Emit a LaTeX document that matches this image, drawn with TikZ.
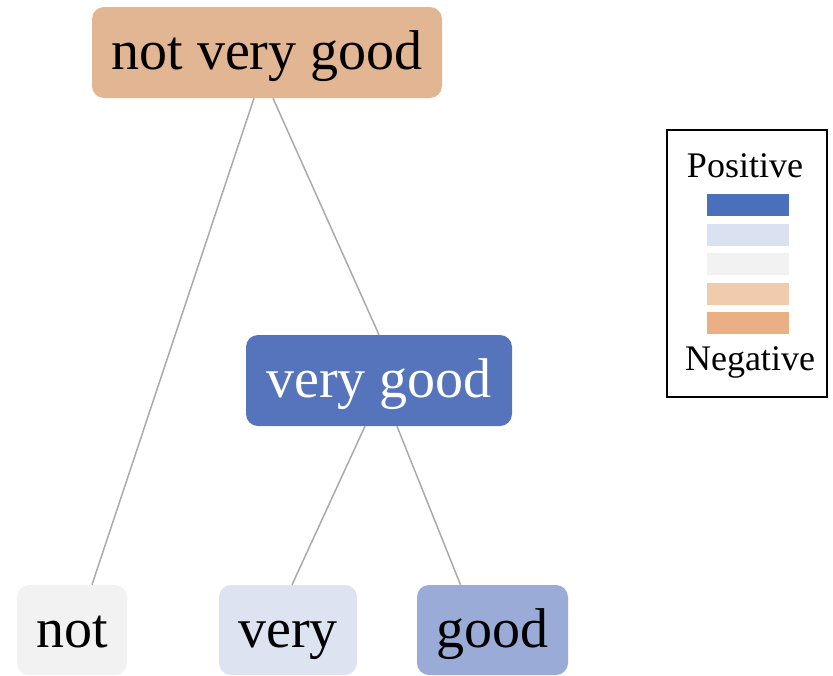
\documentclass[tikz,border=0pt]{standalone}
\usepackage{fontspec}
\setmainfont{Liberation Serif}
\usetikzlibrary{calc}

\definecolor{negstrong}{HTML}{E2B593}
\definecolor{posstrong}{HTML}{5574BB}
\definecolor{neutral}{HTML}{F2F2F2}
\definecolor{posweak}{HTML}{DEE3F2}
\definecolor{posmid}{HTML}{99ABD6}
\definecolor{edgegray}{HTML}{AAAAAA}
\definecolor{legpos2}{HTML}{4A70BB}
\definecolor{legpos1}{HTML}{DAE1F0}
\definecolor{legneu}{HTML}{F2F2F2}
\definecolor{legneg1}{HTML}{F1CBAD}
\definecolor{legneg2}{HTML}{EBAF84}

\tikzset{
  phrase/.style={rounded corners=12pt, inner sep=0pt, minimum height=91pt,
    text height=45pt, text depth=11pt, font=\fontsize{56}{60}\selectfont},
  treeedge/.style={draw=edgegray, line width=1.5pt},
  swatch/.style={inner sep=0pt, minimum width=82pt, minimum height=22pt},
  legendtext/.style={anchor=base, inner sep=0pt, font=\fontsize{36}{40}\selectfont}
}

\begin{document}
\begin{tikzpicture}[x=1pt, y=-1pt]
\useasboundingbox (0,0) rectangle (833,675);

% phrase tree
\node[phrase, fill=negstrong, minimum width=350pt] (top) at (267,52.5) {not very good};
\node[phrase, fill=posstrong, text=white, minimum width=266pt] (vg) at (379,380.5) {very good};
\node[phrase, fill=neutral, minimum width=110pt, minimum height=90pt] (wnot) at (72,630) {not};
\node[phrase, fill=posweak, minimum width=138pt, minimum height=90pt] (wvery) at (288,630) {very};
\node[phrase, fill=posmid, minimum width=151pt, minimum height=90pt] (wgood) at (492.5,630) {good};

\draw[treeedge] ($(top.south)+(-13,0)$) -- ($(wnot.north)+(20,0)$);
\draw[treeedge] ($(top.south)+(6,0)$) -- (vg.north);
\draw[treeedge] ($(vg.south)+(-14,0)$) -- ($(wvery.north)+(4,0)$);
\draw[treeedge] ($(vg.south)+(18,0)$) -- ($(wgood.north)+(-32,0)$);

% colour legend
\node[draw=black, line width=1.5pt, inner sep=0pt, minimum width=160pt, minimum height=267pt] (legend) at (747,263.5) {};
\node[legendtext] (lpos) at (745,177) {Positive};
\node[swatch, fill=legpos2] (s1) at (748,204.5) {};
\node[swatch, fill=legpos1] (s2) at (748,234.5) {};
\node[swatch, fill=legneu] (s3) at (748,264) {};
\node[swatch, fill=legneg1] (s4) at (748,293.5) {};
\node[swatch, fill=legneg2] (s5) at (748,322.5) {};
\node[legendtext] (lneg) at (750,370) {Negative};
\end{tikzpicture}
\end{document}
